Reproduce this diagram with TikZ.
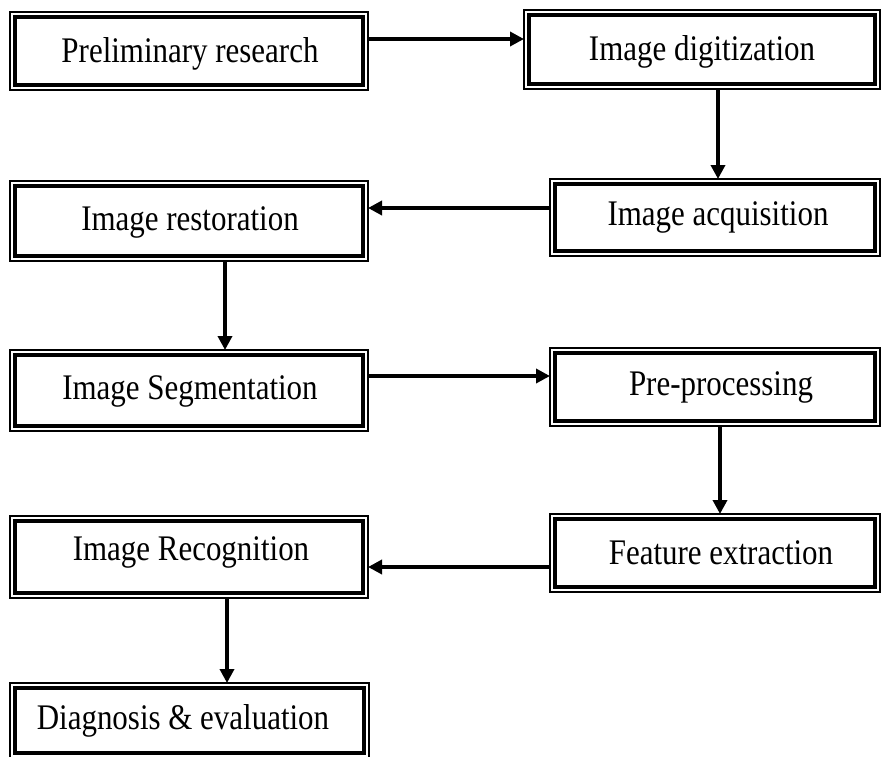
\documentclass[tikz,border=0pt]{standalone}
\usepackage{fontspec}
\setmainfont{Liberation Serif}
\newfontfamily\boxfont[FakeStretch=0.86]{Liberation Serif}
\usetikzlibrary{arrows.meta,calc}
\begin{document}
\begin{tikzpicture}[x=1pt,y=1pt,
  box/.style={draw, line width=4.5pt, inner sep=0pt, outer sep=5pt},
  outerline/.style={line width=1.3pt},
  lbl/.style={inner sep=0pt, outer sep=0pt, anchor=base, font=\boxfont\fontsize{36}{42}\selectfont},
  arr/.style={line width=4pt, -{Triangle[length=14pt,width=14pt]}}]
\useasboundingbox (0,0) rectangle (881,-756);
% boxes
\node[box, minimum width=348pt, minimum height=68pt] (b1) at (189,-51) {};
\node[box, minimum width=346pt, minimum height=69pt] (b2) at (702,-49.5) {};
\node[box, minimum width=320pt, minimum height=67pt] (b3) at (715,-217.5) {};
\node[box, minimum width=348pt, minimum height=70pt] (b4) at (189,-221) {};
\node[box, minimum width=348pt, minimum height=71pt] (b5) at (189,-390.5) {};
\node[box, minimum width=320pt, minimum height=68pt] (b6) at (715,-387) {};
\node[box, minimum width=320pt, minimum height=68pt] (b7) at (715,-553) {};
\node[box, minimum width=348pt, minimum height=72pt] (b8) at (189,-557) {};
\node[box, minimum width=349pt, minimum height=65pt] (b9) at (189.5,-720.5) {};
\foreach \b in {b1,b2,b3,b4,b5,b6,b7,b8,b9}
  \draw[outerline] (\b.south west) rectangle (\b.north east);
% labels
\node[lbl] (t1) at (190,-62) {Preliminary research};
\node[lbl] (t2) at (702,-60) {Image digitization};
\node[lbl] (t3) at (718,-225) {Image acquisition};
\node[lbl] (t4) at (190,-230) {Image restoration};
\node[lbl] (t5) at (190,-399) {Image Segmentation};
\node[lbl] (t6) at (721,-395) {Pre-processing};
\node[lbl] (t7) at (721,-564) {Feature extraction};
\node[lbl] (t8) at (191,-560) {Image Recognition};
\node[lbl] (t9) at (183,-729) {Diagnosis \& evaluation};
% connectors
\draw[arr] ([yshift=12pt]b1.east) -- ([yshift=12pt]b1.east -| b2.west);
\draw[arr] ([xshift=16pt]b2.south) -- ([xshift=16pt]b2.south |- b3.north);
\draw[arr] ([yshift=9.5pt]b3.west) -- ([yshift=9.5pt]b3.west -| b4.east);
\draw[arr] ([xshift=36pt]b4.south) -- ([xshift=36pt]b4.south |- b5.north);
\draw[arr] ([yshift=14.5pt]b5.east) -- ([yshift=14.5pt]b5.east -| b6.west);
\draw[arr] ([xshift=5pt]b6.south) -- ([xshift=5pt]b6.south |- b7.north);
\draw[arr] ([yshift=-14pt]b7.west) -- ([yshift=-14pt]b7.west -| b8.east);
\draw[arr] ([xshift=38pt]b8.south) -- ([xshift=38pt]b8.south |- b9.north);
\end{tikzpicture}
\end{document}
